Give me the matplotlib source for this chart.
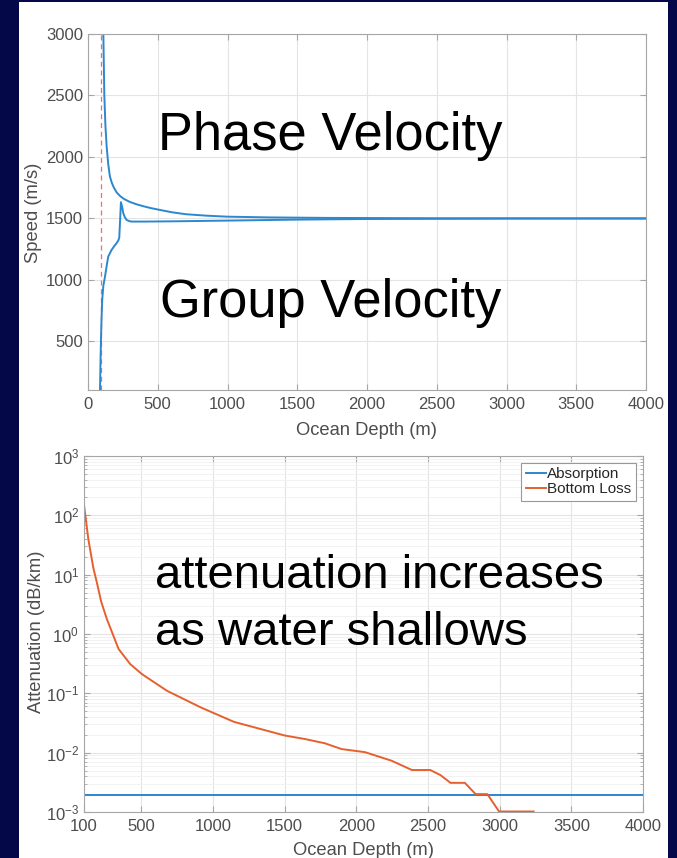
import matplotlib
matplotlib.use("Agg")
import matplotlib.pyplot as plt
from matplotlib.patches import Rectangle
from matplotlib.ticker import LogLocator, NullFormatter

plt.rcParams["font.family"] = ["Liberation Sans", "DejaVu Sans"]
plt.rcParams["mathtext.default"] = "regular"

# --- data -------------------------------------------------------------------
phase_depth = [110, 117, 125, 134, 145, 157, 170, 185, 205, 230, 260, 300,
               350, 400, 450, 515, 600, 700, 850, 1000, 1300, 1700, 2500, 4000]
phase_speed = [3000, 2500, 2250, 2080, 1940, 1840, 1790, 1750, 1710, 1680,
               1655, 1632, 1612, 1596, 1582, 1567, 1548, 1532, 1520, 1512,
               1506, 1502, 1499, 1498]

group_depth = [86, 89, 93, 97, 102, 110, 122, 135, 145, 169, 190, 205, 218,
               224, 230, 236, 245, 253, 265, 277, 295, 312, 400, 600, 1000,
               1500, 2000, 3000, 4000]
group_speed = [100, 300, 508, 680, 834, 950, 1024, 1120, 1187, 1241, 1275,
               1296, 1320, 1340, 1480, 1630, 1590, 1540, 1505, 1485, 1476,
               1472, 1472, 1474, 1480, 1488, 1493, 1496, 1497]

cutoff_depth = 90

absorption_depth = [100, 4000]
absorption = [0.00195, 0.00195]

loss_depth = [100, 130, 165, 189, 220, 259, 341, 423, 505, 680, 914, 1147,
              1499, 1640, 1780, 1897, 2060, 2247, 2388, 2435, 2516, 2586,
              2657, 2757, 2832, 2914, 2996, 3237]
bottom_loss = [150, 40, 13, 7.5, 3.5, 1.8, 0.56, 0.31, 0.21, 0.11, 0.058,
               0.033, 0.0195, 0.017, 0.0144, 0.0115, 0.0102, 0.0073, 0.0051,
               0.0051, 0.0051, 0.0042, 0.0031, 0.0031, 0.0020, 0.0020,
               0.00102, 0.00102]

speed_ticks = [500, 1000, 1500, 2000, 2500, 3000]
depth_ticks_top = [0, 500, 1000, 1500, 2000, 2500, 3000, 3500, 4000]
depth_ticks_bot = [100, 500, 1000, 1500, 2000, 2500, 3000, 3500, 4000]
atten_ticks = [1e-3, 1e-2, 1e-1, 1e0, 1e1, 1e2, 1e3]

BLUE = "#2b88cf"
ORANGE = "#e5602e"
NAVY = "#050848"
AXCOL = "#a6a6a6"
TXT = "#4d4d4d"

W, H = 677, 858
fig = plt.figure(figsize=(W / 100, H / 100), dpi=100, facecolor=NAVY)
fig.patches.append(Rectangle((19 / W, 0), 649 / W, 856 / H,
                             transform=fig.transFigure, facecolor="white",
                             edgecolor="none", zorder=-10))


def px_axes(x0, y0, x1, y1):
    return fig.add_axes([x0 / W, 1 - y1 / H, (x1 - x0) / W, (y1 - y0) / H])


def style(ax):
    for s in ax.spines.values():
        s.set_color(AXCOL)
        s.set_linewidth(0.8)
    ax.tick_params(which="both", direction="in", top=True, right=True,
                   color=AXCOL, labelcolor=TXT, labelsize=12)
    ax.tick_params(axis="x", pad=5, length=4)
    ax.tick_params(axis="y", pad=3.5, length=4)
    ax.tick_params(which="minor", length=2)
    ax.grid(True, which="major", color="#e4e4e4", lw=0.8)
    ax.set_axisbelow(True)


# --- top: phase / group velocity --------------------------------------------
ax1 = px_axes(88, 34, 646, 390)
style(ax1)
ax1.axvline(cutoff_depth, color="#ff6666", lw=0.9, ls=(0, (4, 3)))
ax1.plot(phase_depth, phase_speed, color=BLUE, lw=1.4)
ax1.plot(group_depth, group_speed, color=BLUE, lw=1.4)
ax1.set_xlim(0, 4000)
ax1.set_ylim(100, 3000)
ax1.set_xticks(depth_ticks_top)
ax1.set_yticks(speed_ticks)
ax1.set_xlabel("Ocean Depth (m)", fontsize=13.2, color=TXT)
ax1.set_ylabel("Speed (m/s)", fontsize=13.2, color=TXT)
ax1.xaxis.set_label_coords(0.5, -0.09)
ax1.yaxis.set_label_coords(-0.082, 0.497)
ax1.text(0.125, 0.674, "Phase Velocity", transform=ax1.transAxes,
         fontsize=37.8, va="baseline", ha="left", color="black")
ax1.text(0.129, 0.205, "Group Velocity", transform=ax1.transAxes,
         fontsize=37.8, va="baseline", ha="left", color="black")

# --- bottom: attenuation -----------------------------------------------------
ax2 = px_axes(84, 456, 643, 812)
style(ax2)
ax2.set_yscale("log")
ax2.plot(absorption_depth, absorption, color=BLUE, lw=1.4, label="Absorption")
ax2.plot(loss_depth, bottom_loss, color=ORANGE, lw=1.4, label="Bottom Loss")
ax2.set_xlim(100, 4000)
ax2.set_ylim(1e-3, 1e3)
ax2.set_xticks(depth_ticks_bot)
ax2.set_yticks(atten_ticks)
ax2.yaxis.set_minor_locator(LogLocator(base=10, subs=range(2, 10), numticks=100))
ax2.yaxis.set_minor_formatter(NullFormatter())
ax2.grid(True, which="minor", axis="y", color="#f0f0f0", lw=0.6)
ax2.set_xlabel("Ocean Depth (m)", fontsize=13.2, color=TXT)
ax2.set_ylabel("Attenuation (dB/km)", fontsize=13.2, color=TXT)
ax2.xaxis.set_label_coords(0.5, -0.085)
ax2.yaxis.set_label_coords(-0.07, 0.506)
ax2.text(0.127, 0.629, "attenuation increases", transform=ax2.transAxes,
         fontsize=34, va="baseline", ha="left", color="black")
ax2.text(0.127, 0.469, "as water shallows", transform=ax2.transAxes,
         fontsize=34, va="baseline", ha="left", color="black")
leg = ax2.legend(loc="upper right", fontsize=11, handlelength=1.3,
                 handletextpad=0.1, labelspacing=0.05, borderpad=0.3,
                 borderaxespad=0.45, fancybox=False, framealpha=1)
leg.get_frame().set_edgecolor("#999999")
leg.get_frame().set_linewidth(0.8)
for t in leg.get_texts():
    t.set_color("#262626")

fig.savefig("out.png", dpi=100, facecolor=NAVY)
